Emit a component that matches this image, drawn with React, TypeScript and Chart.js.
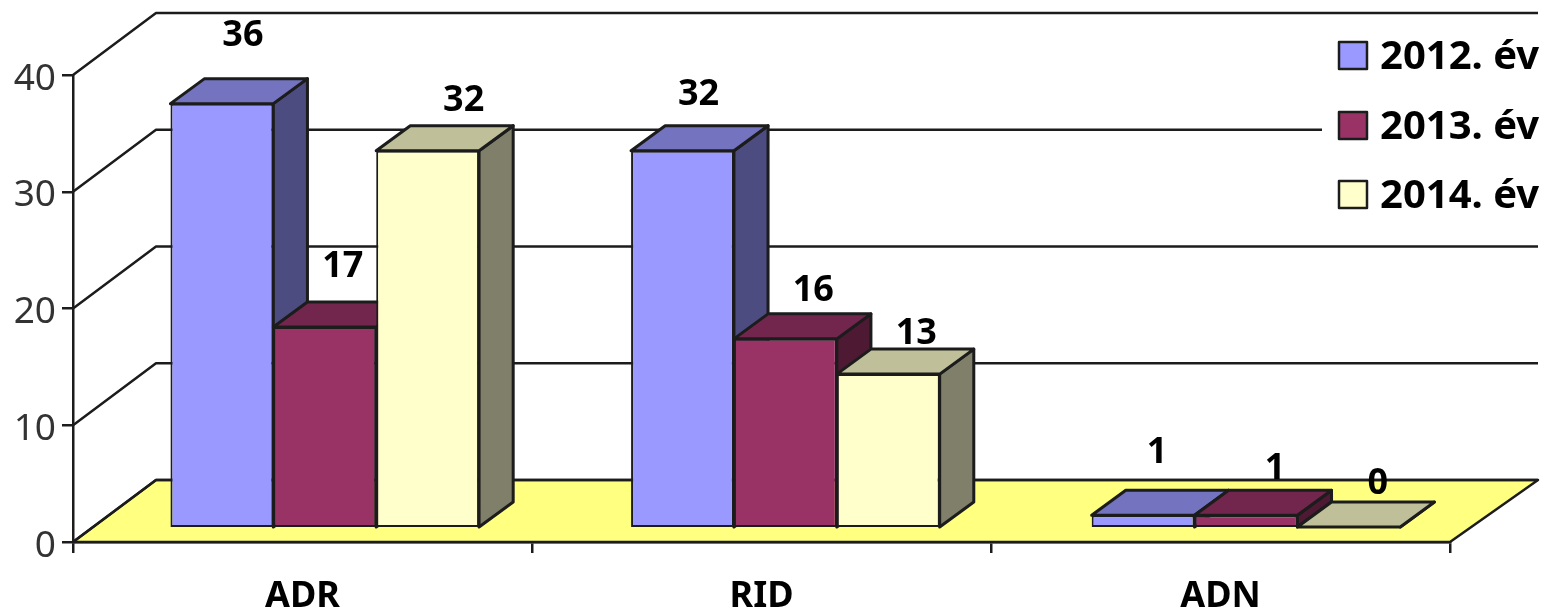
import React, { useEffect, useRef } from "react";
import { Chart, registerables } from "chart.js";

Chart.register(...registerables);

const categories = ["ADR", "RID", "ADN"];
const seriesLabels = ["2012. év", "2013. év", "2014. év"];
const values2012 = [36, 32, 1];
const values2013 = [17, 16, 1];
const values2014 = [32, 13, 0];
const axisTicks = [0, 10, 20, 30, 40];

const frontColors = ["#9999FF", "#993366", "#FFFFCC"];
const topColors = ["#7373BF", "#73264D", "#BFBF99"];
const sideColors = ["#4C4C80", "#4D1933", "#80806A"];
const FLOOR = "#FFFF80";
const INK = "#1c1c1c";
const FONT = '"Noto Sans", "Open Sans", sans-serif';

// layout of the fake perspective
const WALL_DX = 83;
const WALL_DY = -62;
const BAR_DX = 34;
const BAR_DY = -25;
const SHIFT_X = 21.2;
const STRETCH_X = 1.0035;
// label nudges per series / category, relative to the bar's top centre
const labelNudge = [
  [[21, -68], [16, -56], [14, -62]],
  [[18, -60], [28, -48], [29, -46]],
  [[36, -50], [28, -40], [29, -43]],
];

const poly = (ctx: CanvasRenderingContext2D, pts: number[][], fill: string | null, lw = 3) => {
  ctx.beginPath();
  pts.forEach((p, i) => (i ? ctx.lineTo(p[0], p[1]) : ctx.moveTo(p[0], p[1])));
  ctx.closePath();
  if (fill) {
    ctx.fillStyle = fill;
    ctx.fill();
  }
  ctx.lineWidth = lw;
  ctx.strokeStyle = INK;
  ctx.lineJoin = "round";
  ctx.stroke();
};

const threeD = {
  id: "threeD",
  beforeDatasetsDraw(chart: any) {
    const { ctx, chartArea } = chart;
    const ax = chart.scales.yAxis;
    const { left, right } = chartArea;
    const y0 = ax.getPixelForValue(0);
    ctx.save();
    poly(
      ctx,
      [
        [left, y0],
        [left + WALL_DX, y0 + WALL_DY],
        [right + WALL_DX + 5, y0 + WALL_DY],
        [right, y0],
      ],
      FLOOR,
      2.5
    );
    ctx.lineWidth = 2.5;
    ctx.strokeStyle = INK;
    axisTicks.forEach((t) => {
      const y = ax.getPixelForValue(t);
      ctx.beginPath();
      ctx.moveTo(left, y);
      ctx.lineTo(left + WALL_DX, y + WALL_DY);
      ctx.lineTo(right + WALL_DX + 5, y + WALL_DY);
      ctx.stroke();
    });
    ctx.restore();

    // series are painted left to right so each bar covers its neighbour's side face
    ctx.save();
    ctx.translate(SHIFT_X, 0);
    ctx.scale(STRETCH_X, 1);
    chart.data.datasets.forEach((_: any, i: number) => {
      const meta = chart.getDatasetMeta(i);
      meta.data.forEach((el: any) => {
        const { x, y, base, width } = el.getProps(["x", "y", "base", "width"], true);
        const l = x - width / 2;
        const r = x + width / 2;
        poly(ctx, [
          [r, y],
          [r + BAR_DX, y + BAR_DY],
          [r + BAR_DX, base + BAR_DY],
          [r, base],
        ], sideColors[i]);
        poly(ctx, [
          [l, y],
          [l + BAR_DX, y + BAR_DY],
          [r + BAR_DX, y + BAR_DY],
          [r, y],
        ], topColors[i]);
      });
      meta.controller.draw();
    });
    ctx.restore();
  },
  beforeDatasetDraw() {
    return false;
  },
  afterDatasetsDraw(chart: any) {
    const { ctx } = chart;
    ctx.save();
    ctx.fillStyle = "#000";
    ctx.font = `bold 36px ${FONT}`;
    ctx.textAlign = "center";
    ctx.textBaseline = "middle";
    chart.data.datasets.forEach((ds: any, i: number) => {
      chart.getDatasetMeta(i).data.forEach((el: any, j: number) => {
        const { x, y } = el.getProps(["x", "y"], true);
        const [dx, dy] = labelNudge[i][j];
        ctx.fillText(String(ds.data[j]), x * STRETCH_X + SHIFT_X + dx, y + dy);
      });
    });
    ctx.restore();
  },
  afterDraw(chart: any) {
    const { ctx } = chart;
    ctx.save();
    ctx.fillStyle = "#FFFFFF";
    ctx.fillRect(1322, 22, 226, 204);
    const rows = [56, 126, 195];
    ctx.font = `bold 40px ${FONT}`;
    ctx.textBaseline = "middle";
    ctx.textAlign = "left";
    chart.data.datasets.forEach((ds: any, i: number) => {
      const y = rows[i];
      poly(ctx, [
        [1339, y - 14],
        [1367, y - 14],
        [1367, y + 13],
        [1339, y + 13],
      ], ds.backgroundColor, 2.5);
      ctx.fillStyle = "#000";
      ctx.fillText(ds.label, 1380, y + 2);
    });
    ctx.restore();
  },
};

export default function App() {
  const ref = useRef<HTMLCanvasElement>(null);
  useEffect(() => {
    const unit = 11.76;
    const chart = new Chart(ref.current as HTMLCanvasElement, {
      type: "bar",
      data: {
        labels: categories,
        datasets: [values2012, values2013, values2014].map((data, i) => ({
          label: seriesLabels[i],
          data,
          yAxisID: "y",
          backgroundColor: frontColors[i],
          borderColor: INK,
          borderWidth: 2,
          borderSkipped: false,
          categoryPercentage: 0.67,
          barPercentage: 1,
          clip: false,
        })) as any,
      },
      options: {
        responsive: false,
        animation: false,
        layout: { padding: { left: 0, top: 75, right: 98, bottom: 0 } },
        plugins: { legend: { display: false }, tooltip: { enabled: false } },
        scales: {
          x: {
            grid: { drawOnChartArea: false, tickLength: 11, color: INK, lineWidth: 2.5 },
            border: { color: INK, width: 2.5 },
            ticks: { color: "#000", font: { family: FONT, size: 36, weight: "bold" }, padding: 22, maxRotation: 0 },
            afterFit: (s: any) => {
              s.height = 69;
            },
          },
          y: {
            display: false,
            min: -15 / unit,
            max: 452 / unit,
          },
          yAxis: {
            position: "left",
            min: 0,
            max: 40,
            grid: { drawOnChartArea: false, tickLength: 11, color: INK, lineWidth: 2.5 },
            border: { color: INK, width: 2.5 },
            afterBuildTicks: (s: any) => {
              s.ticks = axisTicks.map((value) => ({ value }));
            },
            ticks: { color: "#333333", font: { family: FONT, size: 37 }, padding: 6, labelOffset: 4 },
            afterFit: (s: any) => {
              s.width = 73;
            },
          },
        },
      } as any,
      plugins: [threeD],
    });
    return () => chart.destroy();
  }, []);
  return (
    <canvas
      ref={ref}
      width={1548}
      height={611}
      style={{ position: "absolute", left: 0, top: 0, display: "block", filter: "blur(0.6px)" }}
    />
  );
}
